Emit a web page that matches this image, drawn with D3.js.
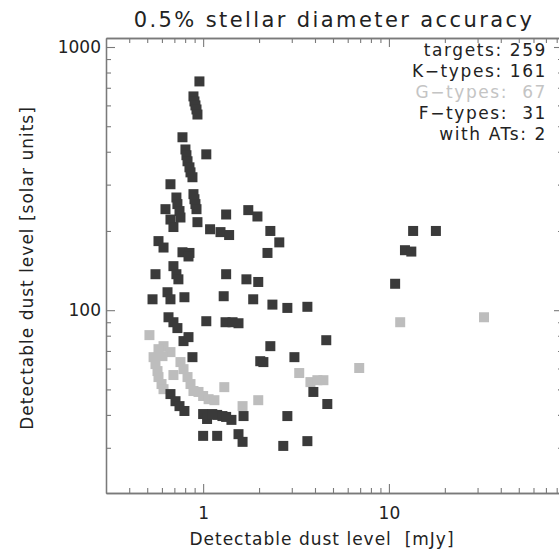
<!DOCTYPE html>
<html>
<head>
<meta charset="utf-8">
<script src="https://cdn.jsdelivr.net/npm/d3@7"></script>
<style>
  body { margin: 0; background: #fff; }
  text { font-family: "DejaVu Sans", sans-serif; fill: #222; }
</style>
</head>
<body>
<div id="chart"></div>
<script>
// dark squares (K- and F-types): x = mJy, y = solar units
var darkX = [0.955, 0.887, 0.898, 0.909, 0.921, 0.932, 0.774, 0.803, 0.813, 0.824, 0.844, 0.855, 0.876, 1.04,
  0.667, 0.887, 0.898, 0.909, 0.921, 0.718, 0.727, 0.746, 0.755, 0.627, 0.667, 0.692, 0.932, 1.33, 1.75, 1.96,
  1.09, 1.24, 1.38, 2.30, 2.57, 0.575, 0.612, 0.774, 0.844, 2.22, 0.834, 0.554, 0.692, 0.718, 0.736, 1.33, 1.71,
  1.98, 0.534, 0.643, 0.667, 0.793, 1.29, 1.86, 2.36, 2.84, 3.64, 0.651, 0.692, 0.727, 1.04, 1.32, 1.44, 1.55,
  0.784, 0.834, 0.876, 2.30, 2.03, 2.11, 4.60, 3.10, 3.92, 4.66, 0.667, 0.710, 0.746, 0.793, 1.00, 1.05, 1.12,
  1.19, 1.27, 1.33, 1.42, 1.65, 2.84, 1.00, 1.19, 1.55, 1.63, 2.70, 3.64, 13.5, 17.9, 12.2, 13.2, 10.8];
var darkY = [740, 649, 621, 600, 579, 554, 454, 408, 388, 368, 349, 334, 320, 391,
  301, 276, 264, 253, 242, 268, 253, 238, 225, 242, 221, 207, 216, 231, 240, 227,
  203, 198, 193, 200, 181, 183, 173, 166, 165, 165, 160, 137, 147, 137, 131, 137, 131,
  128, 110, 117, 110, 112, 113, 110, 105, 102, 103, 94.0, 90.0, 85.5, 90.8, 90.0, 90.0, 89.2,
  76.3, 79.0, 66.3, 73.0, 64.0, 63.5, 76.9, 66.3, 48.9, 44.0, 48.0, 45.1, 43.2, 41.4, 40.3, 38.6, 40.3,
  40.0, 39.6, 39.3, 38.3, 39.6, 39.6, 33.3, 33.3, 33.8, 31.6, 30.5, 31.8, 200, 200, 169, 167, 126];

// light squares (G-types)
var lightX = [11.5, 32.5, 6.92, 3.29, 3.78, 4.12, 4.44, 1.98, 0.514, 0.612, 0.667, 0.541, 0.554, 0.568, 0.575,
  0.597, 0.612, 0.575, 0.604, 0.692, 0.755, 0.784, 0.824, 0.855, 0.887, 0.944, 1.00, 1.07, 1.15, 1.30, 1.63];
var lightY = [90.0, 94.0, 60.3, 57.7, 53.3, 54.2, 54.2, 45.5, 80.4, 73.0, 69.3, 66.3, 62.4, 58.7, 55.7,
  52.4, 50.1, 71.1, 66.9, 56.7, 63.5, 59.7, 55.7, 52.4, 49.3, 48.9, 47.2, 45.9, 45.5, 51.0, 43.2];

var legendLines = ["targets: 259", "K\u2212types: 161", "G\u2212types:  67", "F\u2212types:  31", "with ATs: 2"];
var legendLight = [false, false, true, false, false];

var xMajor = [1, 10];
var xMinor = [0.4, 0.5, 0.6, 0.7, 0.8, 0.9, 2, 3, 4, 5, 6, 7, 8, 9, 20, 30, 40, 50, 60, 70, 80];
var yMajor = [100, 1000];
var yMinor = [30, 40, 50, 60, 70, 80, 90, 200, 300, 400, 500, 600, 700, 800, 900];

var w = 559, h = 551;
var plotL = 106, plotR = 563, plotT = 38, plotB = 493;
var frameColor = "#7a7a7a";
var sq = 10;

function draw() {

	var xScale = d3.scaleLog().domain([0.3, 86.5]).range([plotL, plotR]);
	var yScale = d3.scaleLog().domain([20.2, 1082]).range([plotB, plotT]);

	var svg = d3.select("#chart")
		.append("svg")
		.attr("width", w)
		.attr("height", h);

	// axes: major + minor, ticks pointing inward on all four sides
	function styleAxis(g) {
		g.selectAll("path.domain").attr("stroke", frameColor).attr("stroke-width", 1.3);
		g.selectAll(".tick line").attr("stroke", frameColor).attr("stroke-width", 1.1);
		g.selectAll(".tick text").style("font-size", "17px").attr("fill", "#222");
	}

	var fmt = function(d) { return d3.format("d")(d); };

	svg.append("g").attr("transform", "translate(0," + plotB + ")")
		.call(d3.axisBottom(xScale).tickValues(xMajor).tickFormat(fmt).tickSizeInner(-9).tickSizeOuter(0).tickPadding(14))
		.call(styleAxis);
	svg.append("g").attr("transform", "translate(0," + plotB + ")")
		.call(d3.axisBottom(xScale).tickValues(xMinor).tickFormat("").tickSizeInner(-5).tickSizeOuter(0))
		.call(styleAxis);
	svg.append("g").attr("transform", "translate(0," + plotT + ")")
		.call(d3.axisTop(xScale).tickValues(xMajor).tickFormat("").tickSizeInner(-9).tickSizeOuter(0))
		.call(styleAxis);
	svg.append("g").attr("transform", "translate(0," + plotT + ")")
		.call(d3.axisTop(xScale).tickValues(xMinor).tickFormat("").tickSizeInner(-5).tickSizeOuter(0))
		.call(styleAxis);

	svg.append("g").attr("transform", "translate(" + plotL + ",0)")
		.call(d3.axisLeft(yScale).tickValues(yMajor).tickFormat(fmt).tickSizeInner(-9).tickSizeOuter(0).tickPadding(5))
		.call(styleAxis);
	svg.append("g").attr("transform", "translate(" + plotL + ",0)")
		.call(d3.axisLeft(yScale).tickValues(yMinor).tickFormat("").tickSizeInner(-5).tickSizeOuter(0))
		.call(styleAxis);
	svg.append("g").attr("transform", "translate(" + plotR + ",0)")
		.call(d3.axisRight(yScale).tickValues(yMajor).tickFormat("").tickSizeInner(-9).tickSizeOuter(0))
		.call(styleAxis);
	svg.append("g").attr("transform", "translate(" + plotR + ",0)")
		.call(d3.axisRight(yScale).tickValues(yMinor).tickFormat("").tickSizeInner(-5).tickSizeOuter(0))
		.call(styleAxis);

	// G-types underneath
	svg.append("g").selectAll("rect")
		.data(d3.range(lightX.length))
		.enter().append("rect")
		.attr("x", function(i) { return xScale(lightX[i]) - sq / 2; })
		.attr("y", function(i) { return yScale(lightY[i]) - sq / 2; })
		.attr("width", sq).attr("height", sq)
		.attr("fill", "#bdbdbd");

	svg.append("g").selectAll("rect")
		.data(d3.range(darkX.length))
		.enter().append("rect")
		.attr("x", function(i) { return xScale(darkX[i]) - sq / 2; })
		.attr("y", function(i) { return yScale(darkY[i]) - sq / 2; })
		.attr("width", sq).attr("height", sq)
		.attr("fill", "#3a3a3a");

	// title + axis titles
	svg.append("text")
		.attr("x", 334).attr("y", 27)
		.attr("text-anchor", "middle")
		.style("font-size", "21px").style("letter-spacing", "2.4px")
		.attr("fill", "#333")
		.text("0.5% stellar diameter accuracy");

	svg.append("text")
		.attr("x", 322).attr("y", 545)
		.attr("text-anchor", "middle")
		.style("font-size", "17px").style("letter-spacing", "1px")
		.attr("xml:space", "preserve")
		.text("Detectable dust level  [mJy]");

	svg.append("text")
		.attr("transform", "translate(33,268) rotate(-90)")
		.attr("text-anchor", "middle")
		.style("font-size", "17px").style("letter-spacing", "1px")
		.text("Detectable dust level [solar units]");

	// counts block, right aligned
	svg.append("g").selectAll("text")
		.data(legendLines)
		.enter().append("text")
		.attr("x", 547)
		.attr("y", function(d, i) { return 56 + i * 21; })
		.attr("text-anchor", "end")
		.attr("xml:space", "preserve")
		.style("font-size", "17px").style("letter-spacing", "1.6px")
		.style("fill", function(d, i) { return legendLight[i] ? "#c4c4c4" : "#222"; })
		.text(function(d) { return d; });
}

function init() {
	draw();
}

window.onload = init;
</script>
</body>
</html>
